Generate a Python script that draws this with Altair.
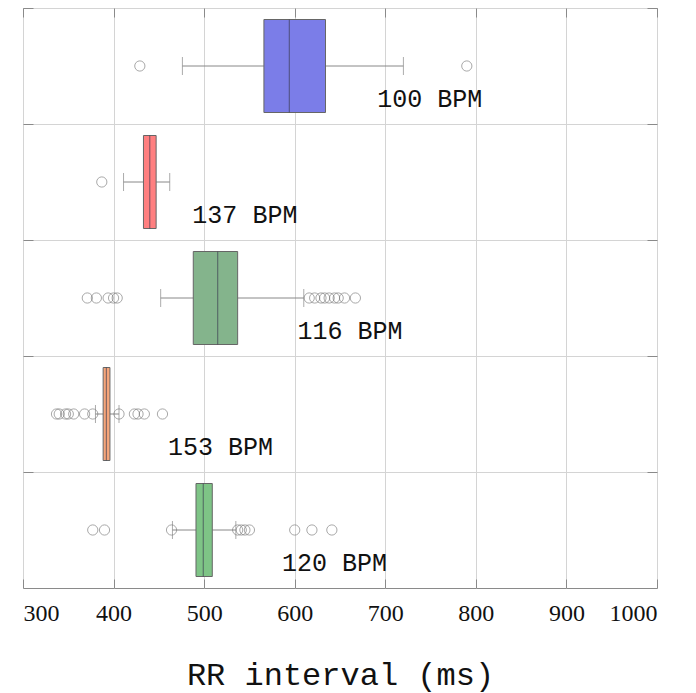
import altair as alt
import pandas as pd

rows = ["100 BPM", "137 BPM", "116 BPM", "153 BPM", "120 BPM"]
q1 = [566, 433, 488, 388.5, 491]
median = [594, 440, 515, 392, 499]
q3 = [634, 447, 537, 396, 509]
whisk_lo = [476, 411, 452, 380, 465]
whisk_hi = [720, 462, 610, 406, 535]
label_x = [691, 487, 603, 460, 586]
box_colors = ["#7b7de8", "#ff7f80", "#84b48c", "#f5a57a", "#7ec486"]

outlier_rows = (["100 BPM"] * 2 + ["137 BPM"] * 1 + ["116 BPM"] * 14 +
                ["153 BPM"] * 12 + ["120 BPM"] * 10)
outlier_vals = [429, 790,
                387,
                371, 381, 394, 400, 404, 616, 622, 629, 633, 638, 644, 648, 655, 667,
                337, 340, 347, 350, 356, 368, 377, 406, 423, 427, 434, 454,
                377, 390, 464, 537, 541, 545, 550, 600, 619, 641]

stats = pd.DataFrame({"row": rows, "q1": q1, "med": median, "q3": q3,
                      "lo": whisk_lo, "hi": whisk_hi, "lx": label_x})
outs = pd.DataFrame({"row": outlier_rows, "v": outlier_vals})

yscale = alt.Scale(domain=rows, type="band", paddingInner=0, paddingOuter=0)
xscale = alt.Scale(domain=[300, 1000], nice=False, zero=False)
xticks = [300, 400, 500, 600, 700, 800, 900, 1000]

y_none = alt.Y("row:N", scale=yscale, axis=None)
x_none_field = lambda f: alt.X(f, type="quantitative", scale=xscale, axis=None)

grid_color = "#d4d4d4"
frame_color = "#8a8a8a"

left_axis = alt.Axis(orient="left", bandPosition=0, labels=False, title=None,
                     domain=False, ticks=True, tickSize=10, offset=-10,
                     tickColor=frame_color, grid=True, gridColor=grid_color)
right_axis = alt.Axis(orient="right", bandPosition=0, labels=False, title=None,
                      domain=False, ticks=True, tickSize=10, offset=-10,
                      tickColor=frame_color, grid=False)
bottom_axis = alt.Axis(orient="bottom", values=xticks, format="d", title="RR interval (ms)",
                       domain=False, ticks=True, tickSize=9, offset=-9,
                       tickColor=frame_color, grid=True, gridColor=grid_color,
                       labelFont="Liberation Serif", labelFontSize=24,
                       labelColor="#111", labelPadding=13,
                       titleFont="Liberation Mono", titleFontSize=32,
                       titleFontWeight="normal", titleColor="#111", titlePadding=34)
top_axis = alt.Axis(orient="top", values=xticks, title=None, labels=False,
                    domain=False, ticks=True, tickSize=9, offset=-9,
                    tickColor=frame_color, grid=False)

base = alt.Chart(stats)

whisk_lo_rule = base.mark_rule(color="#888", strokeWidth=1).encode(
    x=alt.X("lo:Q", scale=xscale, axis=bottom_axis), x2="q1:Q",
    y=alt.Y("row:N", scale=yscale, axis=left_axis))
whisk_hi_rule = base.mark_rule(color="#888", strokeWidth=1).encode(
    x=alt.X("q3:Q", scale=xscale, axis=top_axis), x2="hi:Q",
    y=alt.Y("row:N", scale=yscale, axis=right_axis))
cap_lo = base.mark_tick(color="#888", thickness=1, size=18, orient="vertical").encode(
    x=x_none_field("lo"), y=y_none)
cap_hi = base.mark_tick(color="#888", thickness=1, size=18, orient="vertical").encode(
    x=x_none_field("hi"), y=y_none)
boxes = base.mark_bar(size=93, stroke="#666", strokeWidth=1).encode(
    x=x_none_field("q1"), x2="q3:Q", y=y_none,
    color=alt.Color("row:N", scale=alt.Scale(domain=rows, range=box_colors), legend=None))
med = base.mark_tick(color="#3a3a50", thickness=1, size=93, orient="vertical").encode(
    x=x_none_field("med"), y=y_none)
points = alt.Chart(outs).mark_point(shape="circle", filled=False, color="#777",
                                    strokeWidth=0.9, size=105).encode(
    x=x_none_field("v"), y=y_none)
labels = base.mark_text(align="left", baseline="middle", dy=33, font="Liberation Mono",
                        fontSize=25, color="#111").encode(
    x=x_none_field("lx"), y=y_none, text="row:N")

chart = alt.layer(whisk_lo_rule, whisk_hi_rule, cap_lo, cap_hi, boxes, med, points, labels
).resolve_axis(x="independent", y="independent").properties(
    width=634, height=580,
    autosize=alt.AutoSizeParams(type="none"),
    padding={"left": 15, "top": 0, "right": 31, "bottom": 115},
).configure_view(stroke=frame_color, strokeWidth=1)

chart.save("out.html", embed_options={"renderer": "svg", "actions": False})
